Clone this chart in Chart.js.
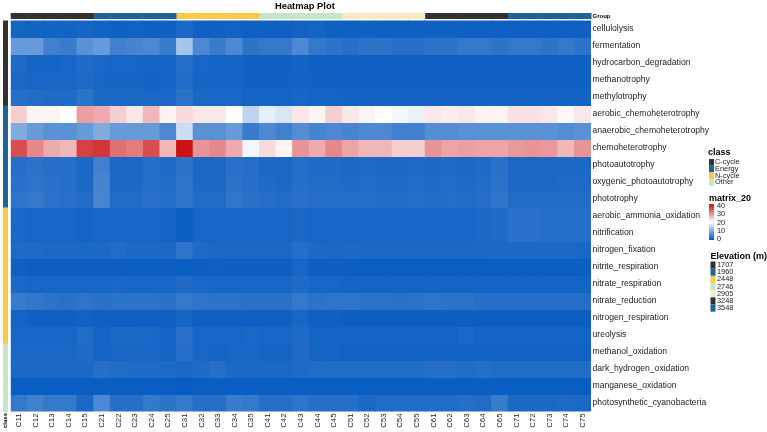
<!DOCTYPE html>
<html>
<head>
<meta charset="utf-8">
<script src="https://cdn.jsdelivr.net/npm/chart.js@4.4.1/dist/chart.umd.min.js"></script>
<style>
  html, body { margin: 0; padding: 0; background: #fff; }
  #wrap { width: 767px; height: 432px; }
</style>
</head>
<body>
<div id="wrap"><canvas id="heat" width="767" height="432"></canvas></div>
<script>
const samples = ['C11','C12','C13','C14','C15','C21','C22','C23','C24','C25','C31','C32','C33','C34','C35',
  'C41','C42','C43','C44','C45','C51','C52','C53','C54','C55','C61','C62','C63','C64','C65','C71','C72','C73','C74','C75'];
const sampleElevation = [1707,1707,1707,1707,1707,1960,1960,1960,1960,1960,2448,2448,2448,2448,2448,
  2746,2746,2746,2746,2746,2905,2905,2905,2905,2905,3248,3248,3248,3248,3248,3548,3548,3548,3548,3548];
const functions = ['cellulolysis','fermentation','hydrocarbon_degradation','methanotrophy','methylotrophy',
  'aerobic_chemoheterotrophy','anaerobic_chemoheterotrophy','chemoheterotrophy','photoautotrophy',
  'oxygenic_photoautotrophy','phototrophy','aerobic_ammonia_oxidation','nitrification','nitrogen_fixation',
  'nitrite_respiration','nitrate_respiration','nitrate_reduction','nitrogen_respiration','ureolysis',
  'methanol_oxidation','dark_hydrogen_oxidation','manganese_oxidation','photosynthetic_cyanobacteria'];
const functionClass = ['C-cycle','C-cycle','C-cycle','C-cycle','C-cycle','Energy','Energy','Energy','Energy','Energy','Energy',
  'N-cycle','N-cycle','N-cycle','N-cycle','N-cycle','N-cycle','N-cycle','N-cycle','Other','Other','Other','Other'];
const classNames = ['C-cycle','Energy','N-cycle','Other'];
const elevationNames = [1707,1960,2448,2746,2905,3248,3548];
const colorTicks = [40,30,20,10,0];

// matrix_20 values per function, columns C11..C75
const cellulolysis = [1.6,1.5,1.5,1.5,1.7, 1.4,1.3,1.4,1.3,1.3, 2.3,1.3,1.3,1.4,1.2, 1.2,1.2,1.4,1.6,1.2, 1.2,1.3,1.2,1.2,1.2, 1.3,1.3,1.3,1.2,1.2, 1.2,1.2,1.2,1.2,1.2];
const fermentation = [8,8,5,4.5,7, 8,5,5.5,6,4.5, 13,6,4.5,6,3.5, 4,4,6,4,3.5, 3,3.5,3.5,3,3, 3.5,3.5,4,4,3.5, 4,4,3.5,4,3.5];
const hydrocarbon_degradation = [2.5,1.6,1.6,1.8,2.5, 2,1.8,1.8,1.6,1.6, 3,1.8,1.6,1.6,1.3, 1.3,1.3,1.5,1.3,1.3, 1.2,1.2,1.2,1.2,1.2, 1.2,1.2,1.2,1.2,1.2, 1.2,1.2,1.2,1.2,1.2];
const methanotrophy = [2.2,1.8,1.8,1.8,2.4, 1.8,1.7,1.7,1.5,1.6, 2.6,1.6,1.6,1.6,1.3, 1.3,1.3,1.4,1.3,1.3, 1.2,1.2,1.2,1.2,1.2, 1.2,1.2,1.2,1.2,1.2, 1.2,1.2,1.2,1.2,1.2];
const methylotrophy = [2.8,2.6,2.4,2.4,3.4, 2.2,2.2,2.2,2,2, 3.4,2,2,2,1.6, 1.6,1.6,1.8,1.6,1.6, 1.5,1.5,1.5,1.5,1.5, 1.5,1.5,1.5,1.5,1.5, 1.5,1.5,1.5,1.5,1.5];
const aerobic_chemoheterotrophy = [24,21,21,20,28, 27,24,22,26,21, 23,22,22,20,15, 18,17,22,21,24, 22,21,20,19,18.5, 22,21.5,22,21,21, 22.5,22.5,22,20.5,22];
const anaerobic_chemoheterotrophy = [10,8,7,7,8, 10,8,8,8,6, 16,7,7,8,4.5, 6,5,6.5,5.5,6, 5.5,6,6,5,5, 6.5,6.5,7,7,7, 7,7,7,6.5,7];
const chemoheterotrophy = [35,30,27,26,36, 37,32,31,35,26, 40,29,30,27,19, 23,21,29,27,30, 27.5,26,26,24,24, 29,27.5,28,27.5,27.5, 28.5,29,28.5,26,29];
const photoautotrophy = [3,3.5,3,3,2, 5,2,2,2.8,2.4, 3.4,2,2,3.2,2.8, 2.2,2,3,2.4,2.4, 2.2,2.4,2.2,2.2,2.4, 2.2,2.4,2.2,2.4,3.2, 2,2,2,2.2,2.2];
const oxygenic_photoautotrophy = [3.2,3.6,3.2,3,2.2, 5.5,2.2,2.2,3,2.6, 3.6,2.2,2.2,3.4,3, 2.4,2.2,3,2.6,2.6, 2.4,2.6,2.4,2.4,2.6, 2.4,2.6,2.4,2.6,3.4, 2.2,2.2,2.2,2.4,2.4];
const phototrophy = [3.6,4,3.4,3.2,2.6, 5.6,2.6,2.6,3.2,2.8, 3.6,2.6,2.6,3.8,3.2, 2.8,2.6,3.2,2.8,2.8, 2.8,2.8,2.6,2.6,2.8, 2.6,2.8,2.6,2.8,3.6, 2.6,2.6,2.6,2.6,2.6];
const aerobic_ammonia_oxidation = [2,1.8,1.8,1.8,1.6, 1.8,1.8,1.8,1.8,1.6, 0.8,1.8,1.8,1.8,1.8, 1.8,1.8,2,1.8,1.8, 1.8,1.8,1.8,1.8,1.8, 1.8,1.8,1.8,2.2,2.4, 3.2,3.2,3,3,3];
const nitrification = [2,1.8,1.8,1.8,1.6, 1.8,1.8,1.8,1.8,1.6, 1,1.8,1.8,1.8,1.8, 1.8,1.8,2,1.8,1.8, 1.8,1.8,1.8,1.8,1.8, 1.8,1.8,1.8,2.2,2.4, 3.2,3.2,3,3,3];
const nitrogen_fixation = [2.4,2.4,2.2,2.2,2.2, 2.2,2.6,2.2,2.2,2.2, 3.6,2.4,2,2,2, 2,2,2.8,2.2,2, 2.2,2,2,2,2, 2,2,2,2,2.2, 2.2,2.2,2.2,2.2,2];
const nitrite_respiration = [1.2,1,1,1,1, 1,1,0.8,0.8,1, 0.8,1,1.2,1,1, 1,1,1.8,1,1, 1,0.8,0.8,0.8,0.8, 0.8,0.8,0.8,0.8,0.8, 0.8,0.8,0.8,0.8,1];
const nitrate_respiration = [2.2,1.8,1.8,1.8,1.8, 1.8,2,1.8,1.8,1.8, 2.4,2,1.8,1.8,1.8, 1.8,1.8,2.4,1.8,1.8, 1.6,1.6,1.6,1.6,1.6, 1.6,1.6,1.6,1.6,1.6, 1.6,1.6,1.6,1.6,1.6];
const nitrate_reduction = [4.4,3.8,3.4,3.2,3.6, 3.2,3.4,3.4,3.4,3.2, 4,3.6,3.4,3.4,3.2, 3.2,3.2,4,3.4,3.6, 3.6,3.4,3.4,3.2,3.4, 3.6,3.4,3.4,3,3, 2.8,2.8,2.8,2.8,2.8];
const nitrogen_respiration = [1.6,1.2,1.2,1.2,1.4, 1.2,1.2,1.2,1.2,1.2, 1.6,1.2,1.2,1.2,1.2, 1.2,1.2,1.8,1.2,1.2, 1,1,1,1,1, 1,1,1,1,1, 1,1,1,1,1];
const ureolysis = [1.8,1.8,1.8,1.8,2.6, 1.6,2.2,2.2,2,1.6, 3.2,1.8,1.8,1.8,2, 1.8,1.8,2.4,1.6,1.6, 1.6,1.6,1.6,1.6,1.6, 1.6,1.6,2,1.6,1.6, 1.6,1.6,1.6,1.6,1.6];
const methanol_oxidation = [2,2,2,2,2.4, 1.6,1.8,1.8,1.8,1.6, 3,1.8,1.6,1.8,1.8, 1.6,1.6,2.4,1.6,1.6, 1.4,1.4,1.4,1.4,1.4, 1.4,1.4,1.4,1.4,1.4, 1.4,1.4,1.4,1.4,1.4];
const dark_hydrogen_oxidation = [2.2,2.2,2.2,2.2,2.2, 3,2.6,2.4,2.4,2.4, 2,2.4,3,2.2,2.2, 2.2,2.2,2.4,2.6,2.6, 2.6,2.6,2.6,2.6,2.6, 2.8,2.8,2.6,2.8,2.6, 2.6,2.6,2.6,2.6,2.6];
const manganese_oxidation = [0.8,0.8,0.8,0.8,0.8, 0.8,0.8,0.8,0.8,0.8, 0.6,0.8,0.8,0.8,0.8, 0.8,0.8,0.8,0.8,0.8, 0.8,0.8,0.8,0.8,0.8, 0.8,0.8,0.8,0.8,0.8, 0.8,0.8,0.8,0.8,0.8];
const photosynthetic_cyanobacteria = [4,5,4,4,2, 6,3,3,4,3.5, 4,3,3,4.5,4, 3,3,3.6,3,3, 3,2.2,2.6,2.6,2.6, 2.6,2.6,3,2.6,4.4, 2.2,2.2,2.2,2.4,2.2];

const rowValues = [cellulolysis, fermentation, hydrocarbon_degradation, methanotrophy, methylotrophy,
  aerobic_chemoheterotrophy, anaerobic_chemoheterotrophy, chemoheterotrophy, photoautotrophy,
  oxygenic_photoautotrophy, phototrophy, aerobic_ammonia_oxidation, nitrification, nitrogen_fixation,
  nitrite_respiration, nitrate_respiration, nitrate_reduction, nitrogen_respiration, ureolysis,
  methanol_oxidation, dark_hydrogen_oxidation, manganese_oxidation, photosynthetic_cyanobacteria];

const annoColors = {
  'C-cycle': '#333333', 'Energy': '#1F6497', 'N-cycle': '#F9CB45', 'Other': '#C7E3C9',
  1707: '#333333', 1960: '#1F6497', 2448: '#F9CB45', 2746: '#C7E3C9', 2905: '#F8EAC1', 3248: '#333333', 3548: '#1F6497'
};

const low = [0, 86, 190], mid = [255, 255, 255], high = [204, 16, 20];
function heatColor(v) {
  const a = v <= 20 ? low : mid;
  const b = v <= 20 ? mid : high;
  const t = v <= 20 ? v / 20 : (v - 20) / 20;
  const c = a.map((x, k) => Math.round(x + (b[k] - x) * t));
  return `rgb(${c[0]},${c[1]},${c[2]})`;
}

const FONT = '"Liberation Sans", Arial, sans-serif';

const annotations = {
  id: 'annotations',
  afterDraw(chart) {
    const ctx = chart.ctx;
    const xs = chart.scales.x, ys = chart.scales.y;
    const area = chart.chartArea;
    const cw = (area.right - area.left) / samples.length;
    ctx.save();
    // title
    ctx.fillStyle = '#000';
    ctx.font = `bold 9.4px ${FONT}`;
    ctx.textAlign = 'center';
    ctx.textBaseline = 'middle';
    ctx.fillText('Heatmap Plot', (area.left + area.right) / 2 + 4, 6);
    // group bar
    samples.forEach((s, i) => {
      const x = xs.getPixelForTick(i) - cw / 2;
      ctx.fillStyle = annoColors[sampleElevation[i]];
      ctx.fillRect(x, 13, cw + 0.5, 6);
    });
    ctx.fillStyle = '#000';
    ctx.font = `bold 6px ${FONT}`;
    ctx.textAlign = 'left';
    ctx.fillText('Group', area.right + 1.5, 16);
    // class bar
    functions.forEach((f, r) => {
      const y0 = ys.getPixelForValue(r), y1 = ys.getPixelForValue(r + 1);
      ctx.fillStyle = annoColors[functionClass[r]];
      ctx.fillRect(3, y0, 5, y1 - y0 + 0.5);
    });
    ctx.save();
    ctx.translate(5.5, 413);
    ctx.rotate(-Math.PI / 2);
    ctx.fillStyle = '#000';
    ctx.font = `bold 6px ${FONT}`;
    ctx.textAlign = 'right';
    ctx.textBaseline = 'middle';
    ctx.fillText('class', 0, 0);
    ctx.restore();

    // legends
    const lx = 709;
    ctx.textAlign = 'left';
    ctx.textBaseline = 'middle';
    ctx.fillStyle = '#000';
    ctx.font = `bold 9px ${FONT}`;
    ctx.fillText('class', lx - 1, 153);
    ctx.font = `7.4px ${FONT}`;
    classNames.forEach((c, i) => {
      const y = 162.3 + i * 6.7;
      ctx.fillStyle = annoColors[c];
      ctx.fillRect(lx, y - 3.3, 5, 6.7);
      ctx.fillStyle = '#222';
      ctx.fillText(c, lx + 6, y);
    });

    ctx.fillStyle = '#000';
    ctx.font = `bold 9px ${FONT}`;
    ctx.fillText('matrix_20', lx, 198.5);
    const top = 204, bot = 240;
    const grad = ctx.createLinearGradient(0, bot, 0, top);
    grad.addColorStop(0, heatColor(0));
    grad.addColorStop(0.5, heatColor(20));
    grad.addColorStop(1, heatColor(40));
    ctx.fillStyle = grad;
    ctx.fillRect(lx, top, 5, bot - top);
    ctx.font = `7.4px ${FONT}`;
    ctx.fillStyle = '#222';
    colorTicks.forEach(t => {
      const y = 239.3 - (t / 40) * 33.6;
      ctx.fillText(String(t), lx + 8, y);
    });

    ctx.fillStyle = '#000';
    ctx.font = `bold 9px ${FONT}`;
    ctx.fillText('Elevation (m)', lx + 1.5, 256.7);
    ctx.font = `7.4px ${FONT}`;
    elevationNames.forEach((e, i) => {
      const y = 265 + i * 7.17;
      ctx.fillStyle = annoColors[e];
      ctx.fillRect(lx + 1.5, y - 3.5, 5, 7.17);
      ctx.fillStyle = '#222';
      ctx.fillText(String(e), lx + 8, y);
    });
    ctx.restore();
  }
};

new Chart(document.getElementById('heat'), {
  type: 'bar',
  data: {
    labels: samples,
    datasets: functions.map((name, r) => ({
      label: name,
      data: samples.map(() => [r, r + 1]),
      backgroundColor: rowValues[r].map(heatColor),
      borderWidth: 0,
      barPercentage: 1,
      categoryPercentage: 1,
      grouped: false,
      inflateAmount: 0.4
    }))
  },
  options: {
    responsive: false,
    animation: false,
    devicePixelRatio: 1,
    layout: { padding: { left: 10.7, top: 20.5, right: 0, bottom: 0 } },
    plugins: { legend: { display: false }, tooltip: { enabled: false }, title: { display: false } },
    scales: {
      x: {
        type: 'category',
        position: 'bottom',
        grid: { display: false, drawTicks: false },
        border: { display: false },
        ticks: {
          autoSkip: false, maxRotation: 90, minRotation: 90, padding: 2,
          color: '#222', font: { family: FONT, size: 7.8 }
        },
        afterFit(scale) { scale.height = 20.5; }
      },
      y: {
        type: 'linear',
        position: 'right',
        min: 0, max: 23, reverse: true,
        grid: { display: false, drawTicks: false },
        border: { display: false },
        afterBuildTicks(scale) { scale.ticks = functions.map((f, i) => ({ value: i + 0.5 })); },
        ticks: {
          autoSkip: false, padding: 1.5, color: '#222',
          font: { family: FONT, size: 8.6 },
          callback: (v, i) => functions[i]
        },
        afterFit(scale) { scale.width = 176; }
      }
    }
  },
  plugins: [annotations]
});
</script>
</body>
</html>
